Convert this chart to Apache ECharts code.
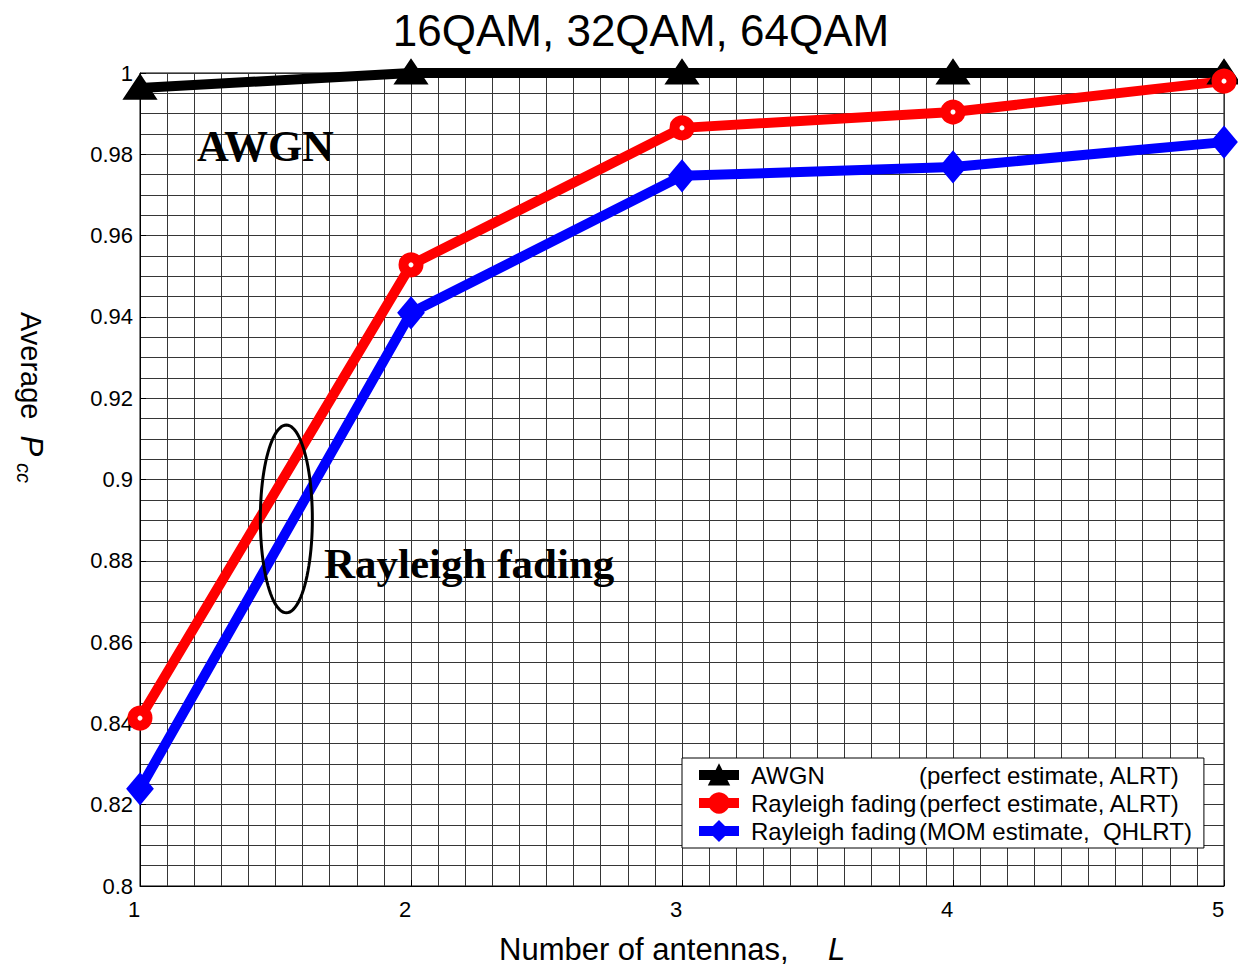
<!DOCTYPE html>
<html>
<head>
<meta charset="utf-8">
<script src="https://cdn.jsdelivr.net/npm/echarts@6/dist/echarts.min.js"></script>
<style>
html,body{margin:0;padding:0;background:#fff;}
#chart{width:1238px;height:967px;}
</style>
</head>
<body>
<div id="chart"></div>
<script>
// ---- data ----
const antennas = [1, 2, 3, 4, 5];
const awgnPerfect = [0.9963, 1.0, 1.0, 1.0, 1.0];
const rayleighPerfect = [0.8413, 0.9528, 0.9865, 0.9904, 0.998];
const rayleighMOM = [0.8239, 0.941, 0.9747, 0.9769, 0.983];
const seriesNames = ['AWGN', 'Rayleigh fading', 'Rayleigh fading MOM'];
const legendMain = ['AWGN', 'Rayleigh fading', 'Rayleigh fading'];
const legendSub = ['(perfect estimate, ALRT)', '(perfect estimate, ALRT)', '(MOM estimate,  QHLRT)'];
const seriesColors = ['#000000', '#ff0000', '#0000ff'];
const ellipseSpec = [1.54, 0.8903, 0.096, 0.0231]; // center L, center P, radius L, radius P

const pairs = v => antennas.map((x, i) => [x, v[i]]);

const chart = echarts.init(document.getElementById('chart'), null, {renderer: 'svg'});
const gridColor = '#363636';
const sans = 'Liberation Sans, Arial, sans-serif';
const serif = 'Liberation Serif, Times New Roman, serif';

const option = {
  animation: false,
  backgroundColor: '#fff',
  grid: {left: 140, right: 14, top: 73, bottom: 81, show: true, borderColor: '#000', borderWidth: 1},
  xAxis: {
    type: 'value', min: 1, max: 5, interval: 1,
    axisLine: {show: true, lineStyle: {color: '#000', width: 1}},
    axisTick: {show: true, inside: true, length: 6, lineStyle: {color: '#000'}},
    minorTick: {show: false, splitNumber: 10},
    splitLine: {show: true, lineStyle: {color: gridColor, width: 1}},
    minorSplitLine: {show: true, lineStyle: {color: gridColor, width: 1}},
    axisLabel: {color: '#000', fontFamily: sans, fontSize: 22, margin: 12, padding: [0, 12, 0, 0]}
  },
  yAxis: {
    type: 'value', min: 0.8, max: 1, interval: 0.02,
    axisLine: {show: true, lineStyle: {color: '#000', width: 1}},
    axisTick: {show: true, inside: true, length: 6, lineStyle: {color: '#000'}},
    minorTick: {show: false, splitNumber: 4},
    splitLine: {show: true, lineStyle: {color: gridColor, width: 1}},
    minorSplitLine: {show: true, lineStyle: {color: gridColor, width: 1}},
    axisLabel: {color: '#000', fontFamily: sans, fontSize: 22, margin: 7,
      formatter: v => String(parseFloat(v.toFixed(3)))}
  },
  legend: {
    orient: 'vertical', left: 682, top: 758,
    data: seriesNames.map((n, i) => ({
      name: n,
      itemStyle: {color: seriesColors[i], borderColor: seriesColors[i], borderWidth: 2},
      lineStyle: {color: seriesColors[i], width: 10}
    })),
    backgroundColor: '#fff', borderColor: '#000', borderWidth: 1,
    padding: [5, 12, 5, 12], itemGap: 4, itemWidth: 40, itemHeight: 24,
    formatter: name => {
      const i = seriesNames.indexOf(name);
      return '{m|' + legendMain[i] + '}{s|' + legendSub[i] + '}';
    },
    textStyle: {
      color: '#000', fontFamily: sans, fontSize: 24,
      rich: {
        m: {width: 168, fontFamily: sans, fontSize: 24, color: '#000', padding: [0, 0, 0, 7]},
        s: {fontFamily: sans, fontSize: 24, color: '#000'}
      }
    }
  },
  series: [
    {
      name: seriesNames[0], type: 'line', data: pairs(awgnPerfect), clip: false,
      symbol: 'triangle', symbolSize: [24, 18],
      lineStyle: {color: seriesColors[0], width: 10},
      itemStyle: {color: seriesColors[0], borderColor: seriesColors[0], borderWidth: 6}
    },
    {
      name: seriesNames[1], type: 'line', data: pairs(rayleighPerfect), clip: false,
      symbol: 'circle', symbolSize: 15,
      lineStyle: {color: seriesColors[1], width: 10},
      itemStyle: {color: '#fff', borderColor: seriesColors[1], borderWidth: 10}
    },
    {
      name: seriesNames[2], type: 'line', data: pairs(rayleighMOM), clip: false,
      symbol: 'diamond', symbolSize: [20, 24],
      lineStyle: {color: seriesColors[2], width: 10},
      itemStyle: {color: seriesColors[2], borderColor: seriesColors[2], borderWidth: 6}
    },
    {
      name: 'ellipse', type: 'custom', silent: true, z: 10, clip: false,
      data: [ellipseSpec],
      renderItem: (params, api) => {
        const c = api.coord([api.value(0), api.value(1)]);
        const s = api.size([api.value(2), api.value(3)]);
        const pts = [];
        for (let k = 0; k < 96; k++) {
          const t = k / 96 * Math.PI * 2;
          pts.push([c[0] + s[0] * Math.cos(t), c[1] + s[1] * Math.sin(t)]);
        }
        return {type: 'polygon', shape: {points: pts},
          style: {fill: 'none', stroke: '#000', lineWidth: 3}};
      }
    }
  ],
  graphic: [
    {type: 'text', x: 641, y: 30, z: 20,
      style: {text: '16QAM, 32QAM, 64QAM', fontFamily: sans, fontSize: 44, fill: '#000',
        textAlign: 'center', textVerticalAlign: 'middle'}},
    {type: 'text', x: 197, y: 146, z: 20,
      style: {text: 'AWGN', fontFamily: serif, fontWeight: 'bold', fontSize: 44, fill: '#000',
        textAlign: 'left', textVerticalAlign: 'middle'}},
    {type: 'text', x: 324, y: 563, z: 20,
      style: {text: 'Rayleigh fading', fontFamily: serif, fontWeight: 'bold', fontSize: 43, fill: '#000',
        textAlign: 'left', textVerticalAlign: 'middle'}},
    {type: 'text', x: 499, y: 949, z: 20,
      style: {text: 'Number of antennas,', fontFamily: sans, fontSize: 31, lineHeight: 32, fill: '#000',
        textAlign: 'left', textVerticalAlign: 'middle'}},
    {type: 'text', x: 828, y: 949, z: 20,
      style: {text: 'L', fontFamily: sans, fontStyle: 'italic', fontSize: 31, lineHeight: 32, fill: '#000',
        textAlign: 'left', textVerticalAlign: 'middle'}},
    {type: 'text', x: 31, y: 312, rotation: -Math.PI / 2, z: 20,
      style: {text: '{a|Average }{p|P}', fill: '#000',
        textAlign: 'left', textVerticalAlign: 'middle',
        rich: {
          a: {fontFamily: sans, fontSize: 29, fill: '#000', color: '#000'},
          p: {fontFamily: sans, fontSize: 31, fontStyle: 'italic', fill: '#000', color: '#000', padding: [0, 0, 0, 8]}
        }}},
    {type: 'text', x: 24, y: 463, rotation: -Math.PI / 2, z: 20,
      style: {text: 'cc', fontFamily: sans, fontStyle: 'italic', fontSize: 20, fill: '#000',
        textAlign: 'left', textVerticalAlign: 'middle'}}
  ]
};
chart.setOption(option);
</script>
</body>
</html>
